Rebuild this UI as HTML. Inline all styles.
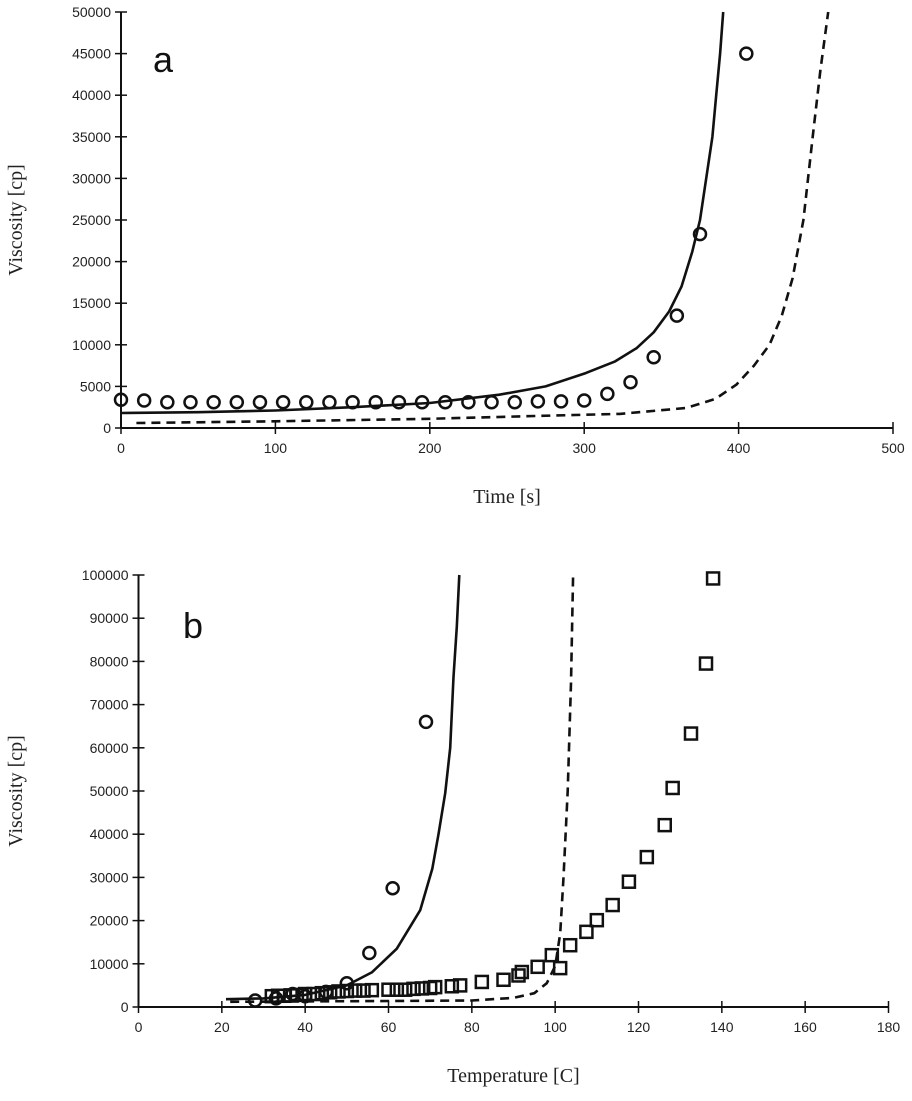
<!DOCTYPE html>
<html><head><meta charset="utf-8"><style>
body{margin:0;background:#fff;}
svg{display:block;}
.tk{font-family:"Liberation Sans",sans-serif;font-size:14px;fill:#222;}
.tt{font-family:"Liberation Serif",serif;font-size:20px;fill:#222;}
.lb{font-family:"Liberation Sans",sans-serif;font-size:36px;fill:#111;}
</style></head><body>
<svg id="s" width="912" height="1101"></svg>
<script>
// ---- Chart a data ----
const aCircT=[0,15,30,45,60,75,90,105,120,135,150,165,180,195,210,225,240,255,270,285,300,315,330,345,360,375,405];
const aCircV=[3400,3300,3100,3100,3100,3100,3100,3100,3100,3100,3100,3100,3100,3100,3100,3100,3100,3100,3200,3200,3300,4100,5500,8500,13500,23300,45000];
const aSolidT=[0,50,100,150,200,245,275,301,320,334,345,355,363,370,375,379,383,385.5,388,390];
const aSolidV=[1800,1900,2100,2500,3000,4000,5000,6600,8000,9600,11500,14000,17000,21200,25000,30000,35000,40000,45000,50000];
const aDashT=[10,100,200,258,323,366,385,398.5,410,420,428,435,442,448,453,458];
const aDashV=[600,800,1100,1400,1700,2400,3500,5200,7500,10000,13500,18000,25000,35000,43000,50000];
const aXTicks=[0,100,200,300,400,500];
const aYTicks=[0,5000,10000,15000,20000,25000,30000,35000,40000,45000,50000];
// ---- Chart b data ----
const bCircT=[28,33,37,40,45,50,55.4,61,69];
const bCircV=[1500,2000,3000,2500,3500,5500,12500,27500,66000];
const bSqT=[32,33.5,35,36.5,38,40,42,44,46,48,50,52,54,56,60,62,64,66,68,70,71.2,75.2,77.2,82.4,87.6,91.2,92,95.8,99.2,101.2,103.6,107.5,110,113.8,117.7,122,126.3,128.2,132.6,136.2,137.9];
const bSqV=[2500,2600,2600,2700,2800,3000,3000,3200,3400,3600,3700,3800,3800,3900,4000,4000,4000,4200,4300,4400,4600,4800,5000,5800,6300,7300,8100,9300,12000,9000,14300,17400,20100,23600,29000,34700,42100,50700,63300,79500,99200];
const bSolidT=[21,30,40,50,56,62,67.6,70.5,72,73.6,74.8,75.6,76.4,77];
const bSolidV=[1800,2000,2800,5000,8000,13500,22400,32000,40000,49500,60000,76400,88000,100000];
const bDashT=[22,40,60,80,90,95,98,100,101.2,102,103,103.8,104.3];
const bDashV=[1200,1300,1400,1500,2100,3200,5500,9500,17000,30000,50000,75000,100000];
const bXTicks=[0,20,40,60,80,100,120,140,160,180];
const bYTicks=[0,10000,20000,30000,40000,50000,60000,70000,80000,90000,100000];

const NS="http://www.w3.org/2000/svg";
const svg=document.getElementById('s');
function mk(tag,attrs,parent){const e=document.createElementNS(NS,tag);for(const k in attrs)e.setAttribute(k,attrs[k]);(parent||svg).appendChild(e);return e;}

function chart(o){
  const g=mk('g',{});
  
  
  const sx=v=>o.x0+(v-o.xmin)/(o.xmax-o.xmin)*(o.x1-o.x0);
  const sy=v=>o.y0-(v-o.ymin)/(o.ymax-o.ymin)*(o.y0-o.y1);
  const ax=mk('line',{x1:o.x0,y1:o.y0,x2:o.x1,y2:o.y0,stroke:'#111','stroke-width':2},g);
  
  
  const ay=mk('line',{x1:o.x0,y1:o.y0,x2:o.x0,y2:o.y1,stroke:'#111','stroke-width':2},g);
  
  
  o.xt.forEach(v=>{
    mk('line',{x1:sx(v),y1:o.y0,x2:sx(v),y2:o.y0+6,stroke:'#111','stroke-width':1.5},g);
    if(v!==o.xmin) mk('line',{x1:sx(v),y1:o.y0,x2:sx(v),y2:o.y0-6,stroke:'#111','stroke-width':1.5},g);
    const t=mk('text',{x:sx(v),y:o.y0+25,'text-anchor':'middle',class:'tk'},g);t.textContent=v;
    
    
  });
  o.yt.forEach(v=>{
    mk('line',{x1:o.x0-6,y1:sy(v),x2:o.x0+6,y2:sy(v),stroke:'#111','stroke-width':1.5},g);
    const t=mk('text',{x:o.x0-10,y:sy(v)+5,'text-anchor':'end',class:'tk'},g);t.textContent=v;
    
    
  });
  const xt=mk('text',{x:(o.x0+o.x1)/2,y:o.y0+75,'text-anchor':'middle',class:'tt'},g);xt.textContent=o.xtitle;
  
  
  const cy=(o.y0+o.y1)/2;
  const yt=mk('text',{x:22,y:cy,'text-anchor':'middle',class:'tt',transform:`rotate(-90 22 ${cy})`},g);yt.textContent='Viscosity [cp]';
  
  
  const lb=mk('text',{x:o.lx,y:o.ly,class:'lb'},g);lb.textContent=o.label;
  
  
  o.lines.forEach(L=>{
    let d='';L.t.forEach((t,i)=>{d+=(i?'L':'M')+sx(t).toFixed(1)+','+sy(L.v[i]).toFixed(1);});
    const p=mk('path',{d:d,fill:'none',stroke:'#111','stroke-width':2.6,'stroke-dasharray':L.dash||'none','stroke-linejoin':'round'},g);
    
    
  });
  o.circ.forEach(C=>{
    C.t.forEach((t,i)=>{
      const c=mk('circle',{cx:sx(t),cy:sy(C.v[i]),r:6,fill:'none',stroke:'#111','stroke-width':2.5},g);
      
      
    });
  });
  (o.sq||[]).forEach(C=>{
    C.t.forEach((t,i)=>{
      const r=mk('rect',{x:sx(t)-6,y:sy(C.v[i])-6,width:12,height:12,fill:'none',stroke:'#111','stroke-width':2.5},g);
      
      
    });
  });
}
chart({name:'chart-a',x0:121,x1:893,y0:428,y1:12,xmin:0,xmax:500,ymin:0,ymax:50000,xt:aXTicks,yt:aYTicks,
  xtitle:'Time [s]',label:'a',lx:153,ly:72,
  lines:[{t:aSolidT,v:aSolidV,name:'solid-model-line'},{t:aDashT,v:aDashV,dash:'9,6',name:'dashed-model-line'}],
  circ:[{t:aCircT,v:aCircV}]});
chart({name:'chart-b',x0:138.5,x1:888.5,y0:1007,y1:575,xmin:0,xmax:180,ymin:0,ymax:100000,xt:bXTicks,yt:bYTicks,
  xtitle:'Temperature [C]',label:'b',lx:183,ly:638,
  lines:[{t:bSolidT,v:bSolidV,name:'solid-model-line'},{t:bDashT,v:bDashV,dash:'9,6',name:'dashed-model-line'}],
  circ:[{t:bCircT,v:bCircV}],sq:[{t:bSqT,v:bSqV}]});
</script>
</body></html>
